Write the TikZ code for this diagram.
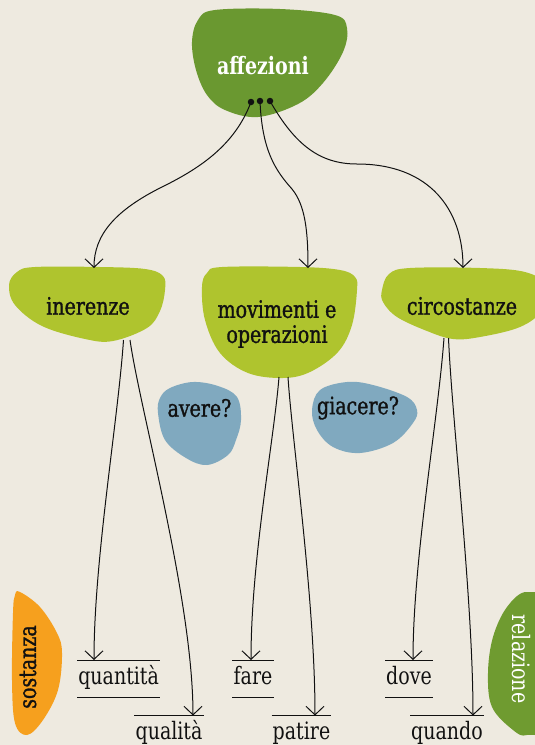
\documentclass[tikz,border=0pt]{standalone}
\usepackage{fontspec}
\setmainfont{DejaVu Serif Condensed}
\newfontfamily\lblfont[FakeStretch=0.88]{DejaVu Serif Condensed}
\newfontfamily\headfont[FakeStretch=0.88, FakeBold=1.2]{DejaVu Serif Condensed}
\usetikzlibrary{arrows.meta}
\definecolor{bg}{HTML}{EEEAE0}
\definecolor{dkgreen}{HTML}{6A9830}
\definecolor{ltgreen}{HTML}{AFC42E}
\definecolor{bluish}{HTML}{80A9BF}
\definecolor{orng}{HTML}{F6A01E}
\definecolor{relgreen}{HTML}{6F9B30}
\definecolor{ink}{HTML}{111111}
\begin{document}
\begin{tikzpicture}[x=1pt,y=-1pt,
  txt/.style={font=\headfont\fontsize{24}{26}\selectfont, text=ink, inner sep=0pt, align=center},
  lbl/.style={font=\lblfont\fontsize{24}{26}\selectfont, text=ink, inner xsep=1pt, inner ysep=0pt,
              text height=24pt, text depth=13pt, anchor=north},
  rule/.style={line width=0.9pt, draw=ink},
  conn/.style={line width=1pt, draw=ink, -{Straight Barb[length=8.5pt,width=18pt,line width=1pt]}},
  dot/.style={circle, fill=ink, inner sep=0pt, minimum size=6.5pt}]
\useasboundingbox (0,0) rectangle (535,745);
\fill[bg] (0,0) rectangle (535,745);

% blobs
\fill[dkgreen] plot[smooth cycle, tension=0.6] coordinates {(192,42) (198,20) (215,10) (280,9) (335,15) (347,28) (343,52) (323,83) (298,104) (258,117) (225,110) (207,95) (196,70)};
\fill[ltgreen] plot[smooth cycle, tension=0.6] coordinates {(9,285) (17,272) (35,267) (100,267) (145,269) (163,276) (165,290) (160,311) (147,328) (113,341) (85,339) (42,326) (15,305)};
\fill[ltgreen] plot[smooth cycle, tension=0.6] coordinates {(202,287) (207,273) (222,267) (300,267) (340,270) (355,277) (357,290) (352,325) (338,352) (310,372) (283,378) (248,373) (220,353) (205,320)};
\fill[ltgreen] plot[smooth cycle, tension=0.6] coordinates {(382,290) (389,274) (410,268) (480,268) (525,272) (545,285) (542,310) (520,327) (480,337) (453,339) (427,331) (397,317) (383,302)};
\fill[bluish] plot[smooth cycle, tension=0.6] coordinates {(158,413) (160,398) (170,388) (193,382) (218,386) (237,397) (241,420) (236,440) (228,455) (207,465) (186,458) (165,440)};
\fill[bluish] plot[smooth cycle, tension=0.6] coordinates {(312,410) (320,390) (347,382) (373,385) (407,397) (417,410) (413,423) (393,443) (360,453) (333,447) (317,430)};
\fill[orng] plot[smooth cycle, tension=0.6] coordinates {(20,592) (40,607) (57,633) (62,653) (58,690) (43,720) (27,735) (15,723) (12,680) (13,613) (15,595)};
\fill[relgreen] plot[smooth cycle, tension=0.6] coordinates {(527,592) (507,607) (493,637) (488,673) (492,707) (513,730) (527,735) (548,720) (550,610)};

% node texts
\node[txt, text=white, font=\lblfont\bfseries\fontsize{24}{26}\selectfont] (aff) at (263,66) {affezioni};
\node[txt] (ine) at (88,306) {inerenze};
\node[txt] (mov) at (277,324) {movimenti e\\[-1pt]operazioni};
\node[txt] (cir) at (462,306) {circostanze};
\node[txt] (ave) at (199.5,408) {avere?};
\node[txt] (gia) at (358,408) {giacere?};
\node[txt, rotate=90] (sos) at (28,667) {sostanza};
\node[txt, text=white, font=\lblfont\fontsize{24}{26}\selectfont, rotate=-90] (rel) at (521,659) {relazione};

% bottom labels
\node[lbl] (qt) at (118.6,660) {quantità};
\node[lbl] (ql) at (169,715.5) {qualità};
\node[lbl] (fa) at (253,660) {fare};
\node[lbl] (pa) at (301.5,715.5) {patire};
\node[lbl] (do) at (409,660) {dove};
\node[lbl] (qu) at (447,715.5) {quando};
\foreach \n in {qt,fa,do} {
  \draw[rule] (\n.north west) -- (\n.north east);
  \draw[rule] (\n.south west) -- (\n.south east);
}
\foreach \n in {ql,pa,qu} {
  \draw[rule] (\n.north west) -- (\n.north east);
}

% dots
\node[dot] (d1) at (251,102) {};
\node[dot] (d2) at (260,101) {};
\node[dot] (d3) at (270,101) {};

% arrow end coordinates
\coordinate (tine) at (94,268);
\coordinate (tmov) at (308,268);
\coordinate (tcir) at (463,268);
\coordinate (tqt) at (94,660);
\coordinate (tql) at (193,715.5);
\coordinate (tfa) at (251,660);
\coordinate (tpa) at (315,715.5);
\coordinate (tdo) at (413,660);
\coordinate (tqu) at (473,715.5);
% start coordinates
\coordinate (sine1) at (123.5,340);
\coordinate (sine2) at (130,340);
\coordinate (smov1) at (279,377);
\coordinate (smov2) at (288,377);
\coordinate (scir1) at (444,338);
\coordinate (scir2) at (448.5,338);

% connectors from affezioni
\draw[conn] (d1.center) .. controls (235,145) and (200,168) .. (164,186) .. controls (115,210) and (94,235) .. (tine);
\draw[conn] (d2.center) .. controls (262,150) and (275,170) .. (292,189) .. controls (305,205) and (308,230) .. (tmov);
\draw[conn] (d3.center) .. controls (295,145) and (320,164) .. (357,164) .. controls (430,164) and (463,210) .. (tcir);

% connectors to labels
\draw[conn] (sine1) .. controls (118,420) and (94,560) .. (tqt);
\draw[conn] (sine2) .. controls (140,410) and (193,600) .. (tql);
\draw[conn] (smov1) .. controls (274,440) and (251,560) .. (tfa);
\draw[conn] (smov2) .. controls (292,440) and (315,600) .. (tpa);
\draw[conn] (scir1) .. controls (438,420) and (413,560) .. (tdo);
\draw[conn] (scir2) .. controls (452,420) and (473,600) .. (tqu);
\end{tikzpicture}
\end{document}
